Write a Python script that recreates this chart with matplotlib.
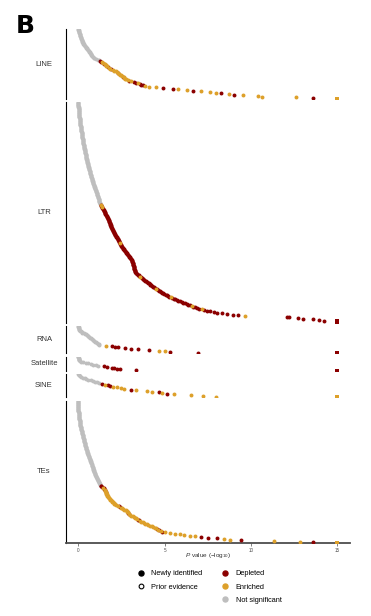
import matplotlib
matplotlib.use("Agg")
import matplotlib.pyplot as plt
from matplotlib.lines import Line2D
import numpy as np

plt.rcParams['font.family'] = ['Liberation Sans', 'DejaVu Sans']
plt.rcParams['mathtext.fontset'] = 'custom'
plt.rcParams['mathtext.rm'] = 'Liberation Sans'
plt.rcParams['mathtext.it'] = 'Liberation Sans:italic'

categories = ["LINE", "LTR", "RNA", "Satellite", "SINE", "TEs"]

# -log10 P values, sorted ascending (rank order top -> bottom)
LINE_ns = [0.00, 0.01, 0.02, 0.03, 0.04, 0.05, 0.06, 0.07, 0.08, 0.10,
           0.11, 0.12, 0.13, 0.14, 0.15, 0.17, 0.19, 0.21, 0.22, 0.24,
           0.26, 0.28, 0.29, 0.31, 0.33, 0.37, 0.40, 0.43, 0.47, 0.50,
           0.53, 0.56, 0.58, 0.61, 0.64, 0.66, 0.69, 0.71, 0.74, 0.76,
           0.78, 0.82, 0.85, 0.89, 0.93, 1.02, 1.12, 1.20]
LINE_sig = [1.26, 1.32, 1.37, 1.42, 1.48, 1.53, 1.58, 1.62, 1.67, 1.72,
            1.78, 1.84, 1.92, 2.00, 2.08, 2.16, 2.22, 2.28, 2.32, 2.36,
            2.42, 2.48, 2.53, 2.58, 2.62, 2.66, 2.70, 2.78, 2.86, 2.94,
            3.08, 3.22, 3.33, 3.45, 3.55, 3.64, 3.74, 3.86, 4.12, 4.50,
            4.88, 5.47, 5.76, 6.28, 6.65, 7.12, 7.60, 7.96, 8.28, 8.74,
            9.02, 9.55, 10.39, 10.65, 12.60, 13.60, 15.00, 15.00]
LINE_dir = ("ddeedeeeed" "eedeeeedee" "eeedeeeeed" "eddedddeee"
            "ddeedeeede" "deeeeded")

LTR_ns = [0.00, 0.00, 0.00, 0.01, 0.01, 0.01, 0.01, 0.01, 0.02, 0.02, 0.02, 0.02, 0.02,
          0.03, 0.03, 0.03, 0.04, 0.04, 0.04, 0.05, 0.05, 0.05,
          0.06, 0.06, 0.07, 0.07, 0.08, 0.08, 0.08, 0.09, 0.09, 0.10, 0.10,
          0.11, 0.11, 0.12, 0.13, 0.13, 0.14, 0.15,
          0.15, 0.16, 0.17, 0.17, 0.18, 0.19, 0.19, 0.20,
          0.21, 0.21, 0.22, 0.22, 0.23, 0.24, 0.24, 0.25, 0.25, 0.26,
          0.27, 0.27, 0.28, 0.29, 0.29, 0.30, 0.31, 0.31, 0.32, 0.33,
          0.34, 0.35, 0.35, 0.36, 0.37, 0.38, 0.38, 0.39, 0.40,
          0.41, 0.42, 0.42, 0.43, 0.44, 0.45, 0.46, 0.47, 0.47, 0.48, 0.49,
          0.50, 0.51, 0.52, 0.53, 0.54, 0.55, 0.56, 0.57, 0.58,
          0.59, 0.60, 0.61, 0.62, 0.63, 0.64, 0.65, 0.66, 0.66, 0.67, 0.68,
          0.69, 0.71, 0.72, 0.73, 0.74, 0.76, 0.77,
          0.78, 0.80, 0.81, 0.82, 0.83, 0.85, 0.86, 0.87,
          0.88, 0.90, 0.91, 0.92, 0.93, 0.95, 0.96,
          0.97, 0.99, 1.00, 1.02, 1.03, 1.04, 1.06, 1.07,
          1.08, 1.10, 1.11, 1.12, 1.14, 1.15, 1.16,
          1.17, 1.18, 1.19, 1.20, 1.21, 1.22,
          1.24, 1.26, 1.28]
LTR_sig = [1.30, 1.32, 1.34, 1.36, 1.38, 1.40, 1.42, 1.44, 1.46, 1.48, 1.50, 1.52, 1.53,
           1.55, 1.57, 1.60, 1.62, 1.64, 1.66, 1.68, 1.70, 1.72,
           1.74, 1.75, 1.77, 1.78, 1.80, 1.81, 1.83, 1.84, 1.86, 1.87, 1.89, 1.90, 1.91, 1.93,
           1.95, 1.97, 1.99, 2.01, 2.03, 2.05, 2.07, 2.09, 2.11, 2.13,
           2.15, 2.18, 2.20, 2.23, 2.25, 2.27, 2.30, 2.32,
           2.34, 2.36, 2.38, 2.40, 2.42, 2.44, 2.46, 2.48, 2.50, 2.51,
           2.54, 2.57, 2.60, 2.63, 2.66, 2.69, 2.72, 2.75, 2.77, 2.80,
           2.83, 2.86, 2.89, 2.92, 2.95, 2.98, 3.01, 3.03, 3.06, 3.09,
           3.10, 3.12, 3.13, 3.14, 3.15, 3.16, 3.18, 3.19,
           3.20, 3.21, 3.22, 3.23, 3.24, 3.25, 3.26, 3.27, 3.27, 3.28,
           3.33, 3.37, 3.42, 3.46, 3.50, 3.53, 3.57,
           3.62, 3.67, 3.72, 3.77, 3.82, 3.87, 3.92, 3.96,
           4.02, 4.07, 4.13, 4.18, 4.23, 4.28, 4.34,
           4.40, 4.46, 4.51, 4.57, 4.62, 4.68, 4.73,
           4.80, 4.86, 4.93, 4.99, 5.06, 5.12,
           5.20, 5.28, 5.37, 5.45, 5.53, 5.62, 5.70,
           5.80, 5.90, 6.00, 6.09, 6.19, 6.28,
           6.38, 6.48, 6.57, 6.67, 6.77, 6.86,
           7.00, 7.15, 7.30, 7.44,
           7.64, 7.83, 8.01,
           8.30, 8.59,
           8.97, 9.26,
           9.65,
           12.07, 12.20, 12.74, 13.03, 13.60, 13.95, 14.20, 15.00, 15.00, 15.00]
LTR_dir = ("deddedddddddd" "ddddddddd" "dddddddddddddd" "dddddddddd"
           "dddddddd" "dddedddddd" "dddddddddd" "dddddddddd" "dddddddd"
           "dddddddddd" "dddddde" "dddddddd" "ddddddd" "ddedddd" "dddddd"
           "ddedddd" "dddddd" "ddeddd" "dedd" "ddd" "dd" "dd" "e" "dddddddddd")

RNA_ns = [0.00, 0.01, 0.02, 0.03, 0.04, 0.05, 0.06, 0.09, 0.14, 0.19,
          0.24, 0.32, 0.40, 0.46, 0.51, 0.55, 0.59, 0.63, 0.67, 0.71,
          0.77, 0.83, 0.88, 0.93, 0.98, 1.03, 1.07, 1.12, 1.17, 1.22]
RNA_sig = [1.60, 1.93, 2.13, 2.32, 2.70, 3.03, 3.46, 4.07, 4.67, 5.02, 5.31, 6.91, 15.00]
RNA_dir = "edddddddeeddd"

Satellite_ns = [0.00, 0.01, 0.02, 0.03, 0.04, 0.05, 0.06, 0.08, 0.14, 0.27,
                0.42, 0.58, 0.72, 0.88, 1.02, 1.14]
Satellite_sig = [1.51, 1.68, 1.93, 2.07, 2.22, 2.41, 3.32, 15.00]
Satellite_dir = "dddddddd"

SINE_ns = [0.00, 0.02, 0.05, 0.10, 0.18, 0.27, 0.37, 0.47, 0.58, 0.71,
           0.83, 0.98, 1.10, 1.20]
SINE_sig = [1.35, 1.55, 1.74, 1.85, 2.03, 2.22, 2.47, 2.65, 3.05, 3.34,
            4.00, 4.28, 4.67, 4.86, 5.12, 5.54, 6.51, 7.24, 7.95, 15.00]
SINE_dir = "deddeeeedeeededeeeee"

TEs_ns = [0.00, 0.00, 0.00, 0.00, 0.00, 0.00, 0.01, 0.01, 0.01, 0.01, 0.01, 0.01, 0.01, 0.01, 0.01, 0.01,
          0.01, 0.02, 0.02, 0.02, 0.03, 0.03, 0.04, 0.04, 0.05, 0.05,
          0.05, 0.06, 0.06, 0.07, 0.07, 0.08, 0.08, 0.09, 0.09, 0.10,
          0.10, 0.11, 0.12, 0.13, 0.14, 0.15, 0.16, 0.17, 0.18, 0.19,
          0.20, 0.21, 0.22, 0.23, 0.24, 0.25, 0.26, 0.27, 0.28, 0.29,
          0.30, 0.31, 0.32, 0.33, 0.34, 0.35, 0.35, 0.36, 0.37, 0.38, 0.39,
          0.40, 0.41, 0.42, 0.43, 0.44, 0.45, 0.46, 0.48, 0.49,
          0.50, 0.52, 0.53, 0.55, 0.56, 0.57, 0.59, 0.60, 0.62, 0.63,
          0.64, 0.66, 0.67, 0.69, 0.70, 0.72, 0.73, 0.75, 0.76, 0.78,
          0.79, 0.80, 0.82, 0.83, 0.84, 0.85, 0.87, 0.88,
          0.89, 0.90, 0.92, 0.93, 0.94, 0.96, 0.97,
          0.99, 1.00, 1.02, 1.04, 1.06,
          1.08, 1.10, 1.12, 1.14, 1.16,
          1.18, 1.20, 1.22, 1.24, 1.25, 1.27]
TEs_sig = [1.30, 1.34, 1.38, 1.42, 1.47, 1.51,
           1.55, 1.56, 1.57, 1.58, 1.60, 1.61, 1.62, 1.64,
           1.66, 1.69, 1.71, 1.74, 1.76, 1.79, 1.81, 1.84,
           1.88, 1.93, 1.97, 2.01, 2.05, 2.09, 2.13,
           2.20, 2.27, 2.34, 2.41,
           2.48, 2.54, 2.61, 2.67, 2.74, 2.80,
           2.83, 2.86, 2.90, 2.93, 2.96, 2.99,
           3.07, 3.14, 3.21, 3.28,
           3.34, 3.40, 3.46, 3.51, 3.57,
           3.65, 3.73, 3.81, 3.88, 3.96,
           4.06, 4.15, 4.25, 4.34,
           4.42, 4.50, 4.57, 4.63,
           4.70, 4.77,
           4.83, 5.02, 5.31, 5.60, 5.89, 6.14, 6.47, 6.76, 7.09, 7.49,
           8.01, 8.44, 8.78, 9.42, 11.35, 12.84, 13.61, 15.00]
TEs_dir = ("dddedd" "edeedeee" "eeeeeeee" "eeeeeee" "eedd" "eeeeee" "eeddee"
           "eeee" "eedde" "eeeee" "eeee" "eede" "de" "deeeeeeedddeedeede")

DATA = {
    "LINE": (LINE_ns, LINE_sig, LINE_dir),
    "LTR": (LTR_ns, LTR_sig, LTR_dir),
    "RNA": (RNA_ns, RNA_sig, RNA_dir),
    "Satellite": (Satellite_ns, Satellite_sig, Satellite_dir),
    "SINE": (SINE_ns, SINE_sig, SINE_dir),
    "TEs": (TEs_ns, TEs_sig, TEs_dir),
}

CAP = 15.0
COL_NS = "#BEBEBE"
COL_DEP = "#8B0000"
COL_ENR = "#DDA02A"
x_ticks = [0, 5, 10, 15]

W, H = 371, 616
fig = plt.figure(figsize=(W / 100, H / 100), dpi=100)

# panel boxes in pixels (top, bottom)
boxes = {"LINE": (29, 99.3), "LTR": (102, 322.7), "RNA": (326, 353.3),
         "Satellite": (356.7, 370.7), "SINE": (374, 397.3), "TEs": (400.7, 543)}
left_px, right_px = 66, 350
x0_px, px_per_unit = 78.3, 17.27
xlim = ((left_px - x0_px) / px_per_unit, (right_px - x0_px) / px_per_unit)

for cat in categories:
    ns, sig, d = DATA[cat]
    n = min(len(sig), len(d))
    sig = list(sig[:n]); d = d[:n]
    vals = np.array(list(ns) + sig, dtype=float)
    status = np.array(["n"] * len(ns) + list(d))
    ranks = np.arange(1, len(vals) + 1)
    top, bot = boxes[cat]
    ax = fig.add_axes([left_px / W, 1 - bot / H, (right_px - left_px) / W, (bot - top) / H])
    for code, col in (("n", COL_NS), ("d", COL_DEP), ("e", COL_ENR)):
        m = status == code
        mc = m & (vals < CAP)
        ms = m & (vals >= CAP)
        ax.scatter(vals[mc], ranks[mc], s=8, c=col, linewidths=0, marker="o", zorder=3)
        ax.scatter(vals[ms], ranks[ms], s=11, c=col, linewidths=0, marker="s", zorder=3)
    ax.set_xlim(*xlim)
    ax.set_ylim(len(vals), 1)
    ax.set_yticks([])
    for sp in ("top", "right"):
        ax.spines[sp].set_visible(False)
    ax.spines["left"].set_color("black")
    ax.spines["left"].set_linewidth(0.8)
    ax.patch.set_alpha(0)
    if cat == "TEs":
        ax.spines["bottom"].set_color("#4d4d4d")
        ax.spines["bottom"].set_linewidth(1.3)
        ax.set_xticks(x_ticks)
        ax.tick_params(axis="x", length=2, width=0.5, color="#4d4d4d",
                       labelsize=3.3, labelcolor="#4d4d4d", pad=1.5)
    else:
        ax.spines["bottom"].set_visible(False)
        ax.set_xticks([])
    fig.text(44 / W, 1 - (top + bot) / 2 / H, cat, ha="center", va="center",
             fontsize=5.5, color="#333333")

fig.text(208 / W, 1 - 556 / H, r"$P$ value (−log$_{10}$)", ha="center", va="center",
         fontsize=4.6, color="#333333")

fig.text(16 / W, 1 - 33 / H, "B", fontsize=18, fontweight="bold",
         family="DejaVu Sans", ha="left", va="baseline")

h1 = [Line2D([], [], marker="o", ls="", color="black", markersize=3.6),
      Line2D([], [], marker="o", ls="", markerfacecolor="white",
             markeredgecolor="black", markeredgewidth=0.8, markersize=3.4)]
l1 = ["Newly identified", "Prior evidence"]
h2 = [Line2D([], [], marker="o", ls="", color=COL_DEP, markersize=3.6),
      Line2D([], [], marker="o", ls="", color=COL_ENR, markersize=3.6),
      Line2D([], [], marker="o", ls="", color=COL_NS, markersize=3.6)]
l2 = ["Depleted", "Enriched", "Not significant"]
common = dict(loc="upper left", frameon=False, fontsize=5.3, handlelength=0.8,
              handletextpad=1.0, labelspacing=0.85, borderpad=0, borderaxespad=0)
fig.legend(h1, l1, bbox_to_anchor=(137.9 / W, 1 - 570 / H), **common)
fig.legend(h2, l2, bbox_to_anchor=(222.5 / W, 1 - 570 / H), **common)

fig.savefig("out.png", dpi=100)
